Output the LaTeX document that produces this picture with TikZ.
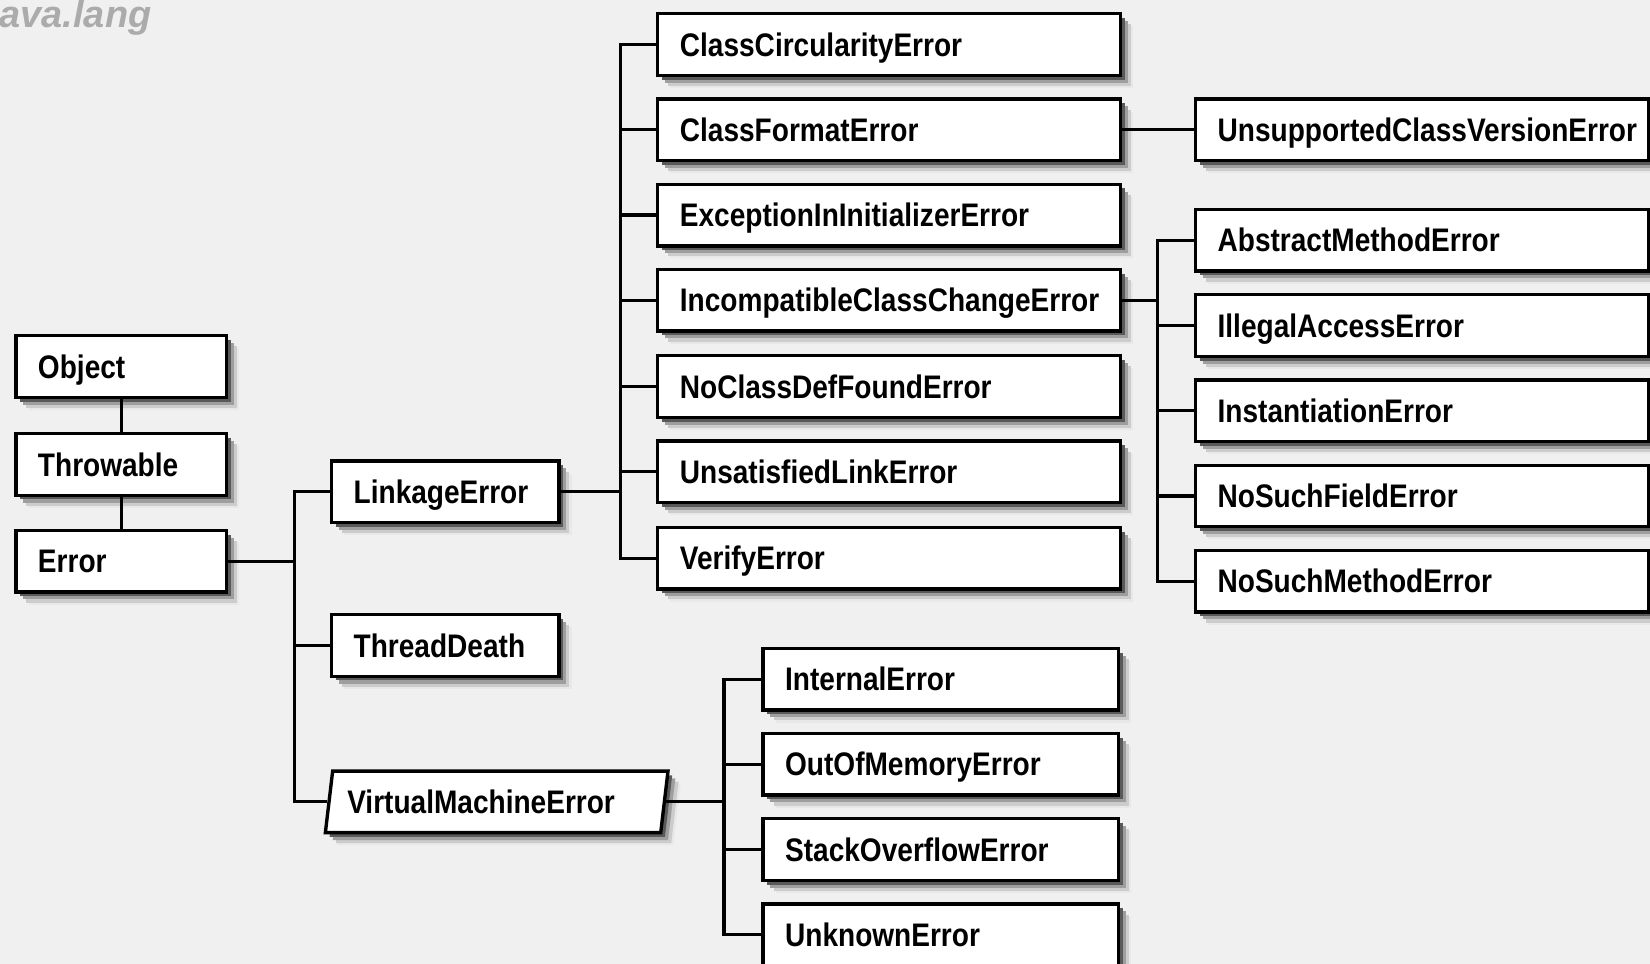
\documentclass[tikz,border=0pt]{standalone}
\usepackage{fontspec}
\setmainfont{Liberation Sans}[FakeStretch=0.86]
\newfontfamily\jlfont{Liberation Sans}
\usetikzlibrary{shapes.geometric,shadows}
\definecolor{bg}{HTML}{F0F0F0}
\begin{document}
\begin{tikzpicture}[x=1pt,y=-1pt,
  sh/.style={
    general shadow={fill=black!9,shadow xshift=12pt,shadow yshift=-12pt},
    general shadow={fill=black!20,shadow xshift=10pt,shadow yshift=-10pt},
    general shadow={fill=black!38,shadow xshift=7pt,shadow yshift=-7pt},
    general shadow={fill=black!65,shadow xshift=4pt,shadow yshift=-4pt}},
  cls/.style={sh, draw=black, line width=3.2pt, fill=white, anchor=north west,
    minimum height=58.5pt, inner xsep=21pt, inner ysep=0pt, align=left,
    text height=22pt, text depth=0pt,
    font=\fontsize{31}{31}\selectfont\bfseries},
  w1/.style={cls, text width=158pt},
  w2/.style={cls, text width=174pt},
  w3/.style={cls, text width=398pt},
  w4/.style={cls, text width=389pt},
  w5/.style={cls, text width=296pt},
  vmestyle/.style={cls, anchor=center, shape=trapezium, trapezium left angle=74,
    trapezium right angle=106, trapezium stretches=true,
    minimum width=327pt, inner xsep=0pt, text width=284pt},
  conn/.style={line width=3pt, draw=black}]
\fill[bg] (0,0) rectangle (1568,916);
\useasboundingbox (0,0) rectangle (1568,916);

\node[anchor=base west, inner sep=0pt, text=black!33,
  font=\jlfont\fontsize{36}{36}\selectfont\bfseries\itshape] (jl) at (-10.5,26) {java.lang};

\coordinate (b1) at (280,0);
\coordinate (b2) at (590,0);
\coordinate (b3) at (1100,0);
\coordinate (b4) at (688,0);

% column 1
\node[w1] (object) at (13.5,317.5) {Object};
\node[w1] (throwable) at (13.5,410.5) {Throwable};
\node[w1] (error) at (13.5,502.5) {Error};
% column 2
\node[w2] (linkage) at (313.5,436.5) {LinkageError};
\node[w2] (threaddeath) at (313.5,582.5) {ThreadDeath};
\node[vmestyle] (vme) at (472,762) {VirtualMachineError};
% column 3
\node[w3] (cce) at (623.5,11.5) {ClassCircularityError};
\node[w3] (cfe) at (623.5,92.5) {ClassFormatError};
\node[w3] (eiie) at (623.5,173.5) {ExceptionInInitializerError};
\node[w3] (icce) at (623.5,254.5) {IncompatibleClassChangeError};
\node[w3] (ncdfe) at (623.5,336.5) {NoClassDefFoundError};
\node[w3] (usle) at (623.5,417.5) {UnsatisfiedLinkError};
\node[w3] (ve) at (623.5,499.5) {VerifyError};
% column 4
\node[w4] (ucve) at (1134.5,92.5) {UnsupportedClassVersionError};
\node[w4] (ame) at (1134.5,197.5) {AbstractMethodError};
\node[w4] (iae) at (1134.5,278.5) {IllegalAccessError};
\node[w4] (ie) at (1134.5,359.5) {InstantiationError};
\node[w4] (nsfe) at (1134.5,440.5) {NoSuchFieldError};
\node[w4] (nsme) at (1134.5,521.5) {NoSuchMethodError};
% column 5
\node[w5] (inte) at (723.5,614.5) {InternalError};
\node[w5] (oome) at (723.5,695.5) {OutOfMemoryError};
\node[w5] (soe) at (723.5,776.5) {StackOverflowError};
\node[w5] (unke) at (723.5,857.5) {UnknownError};

% connectors
\draw[conn] (object.south) -- (throwable.north);
\draw[conn] (throwable.south) -- (error.north);
\draw[conn] (error.east) -- (error.east -| b1);
\draw[conn] (linkage.west) -| (b1 |- vme.west) -- (vme.west);
\draw[conn] (threaddeath.west) -- (threaddeath.west -| b1);

\draw[conn] (linkage.east) -- (linkage.east -| b2);
\draw[conn] (cce.west) -| (b2 |- ve.west) -- (ve.west);
\draw[conn] (cfe.west) -- (cfe.west -| b2);
\draw[conn] (eiie.west) -- (eiie.west -| b2);
\draw[conn] (icce.west) -- (icce.west -| b2);
\draw[conn] (ncdfe.west) -- (ncdfe.west -| b2);
\draw[conn] (usle.west) -- (usle.west -| b2);

\draw[conn] (cfe.east) -- (ucve.west);

\draw[conn] (icce.east) -- (icce.east -| b3);
\draw[conn] (ame.west) -| (b3 |- nsme.west) -- (nsme.west);
\draw[conn] (iae.west) -- (iae.west -| b3);
\draw[conn] (ie.west) -- (ie.west -| b3);
\draw[conn] (nsfe.west) -- (nsfe.west -| b3);

\draw[conn] (vme.east) -- (vme.east -| b4);
\draw[conn] (inte.west) -| (b4 |- unke.west) -- (unke.west);
\draw[conn] (oome.west) -- (oome.west -| b4);
\draw[conn] (soe.west) -- (soe.west -| b4);
\end{tikzpicture}
\end{document}
